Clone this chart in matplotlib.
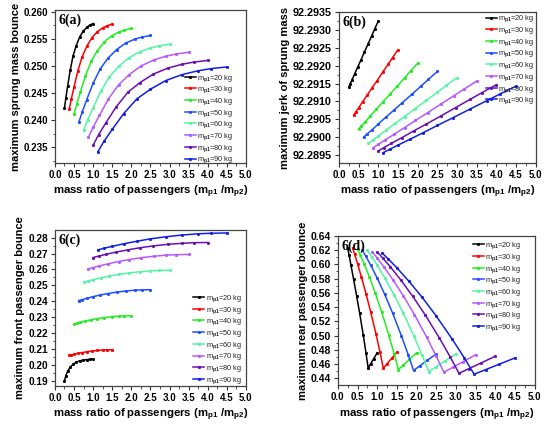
import numpy as np
import matplotlib
matplotlib.use('Agg')
import matplotlib.pyplot as plt
from matplotlib.ticker import MultipleLocator, FormatStrFormatter

plt.rcParams['font.family'] = 'Liberation Sans'
plt.rcParams['mathtext.fontset'] = 'custom'
plt.rcParams['mathtext.rm'] = 'Liberation Sans:bold'
plt.rcParams['mathtext.it'] = 'Liberation Sans:bold'
plt.rcParams['mathtext.bf'] = 'Liberation Sans:bold'

# ── Data ─────────────────────────────
m_p1 = [20, 30, 40, 50, 60, 70, 80, 90]
m_p2 = [80, 70, 60, 50, 42, 36, 31, 27, 24, 22, 20]
m_p2_d = [80, 70, 60, 50, 42, 36, 31, 28, 26, 24, 22, 20]

sprung_bounce = [
    [0.2422, 0.2441, 0.2463, 0.2492, 0.2519, 0.2537, 0.2553, 0.2564, 0.2571, 0.2575, 0.2578],
    [0.2420, 0.2439, 0.2461, 0.2491, 0.2517, 0.2536, 0.2552, 0.2563, 0.2570, 0.2574, 0.2577],
    [0.2411, 0.2430, 0.2452, 0.2482, 0.2509, 0.2528, 0.2544, 0.2555, 0.2562, 0.2566, 0.2569],
    [0.2396, 0.2415, 0.2438, 0.2468, 0.2495, 0.2514, 0.2530, 0.2542, 0.2549, 0.2553, 0.2556],
    [0.2382, 0.2401, 0.2423, 0.2453, 0.2480, 0.2499, 0.2515, 0.2526, 0.2533, 0.2537, 0.2540],
    [0.2368, 0.2387, 0.2409, 0.2439, 0.2465, 0.2484, 0.2500, 0.2511, 0.2518, 0.2522, 0.2525],
    [0.2354, 0.2373, 0.2395, 0.2424, 0.2451, 0.2469, 0.2485, 0.2496, 0.2503, 0.2507, 0.2510],
    [0.2342, 0.2361, 0.2383, 0.2412, 0.2439, 0.2457, 0.2473, 0.2484, 0.2491, 0.2495, 0.2498],
]

sprung_jerk = [
    [92.29140, 92.29149, 92.29161, 92.29177, 92.29196, 92.29215, 92.29238, 92.29261, 92.29284, 92.29303, 92.29325],
    [92.29062, 92.29071, 92.29082, 92.29099, 92.29117, 92.29137, 92.29158, 92.29182, 92.29204, 92.29223, 92.29245],
    [92.29023, 92.29032, 92.29043, 92.29060, 92.29079, 92.29098, 92.29120, 92.29143, 92.29166, 92.29185, 92.29207],
    [92.29000, 92.29009, 92.29020, 92.29037, 92.29056, 92.29075, 92.29097, 92.29120, 92.29143, 92.29162, 92.29184],
    [92.28983, 92.28992, 92.29003, 92.29020, 92.29039, 92.29058, 92.29080, 92.29103, 92.29126, 92.29145, 92.29167],
    [92.28971, 92.28980, 92.28992, 92.29008, 92.29027, 92.29047, 92.29069, 92.29093, 92.29116, 92.29135, 92.29157],
    [92.28962, 92.28971, 92.28983, 92.28999, 92.29018, 92.29037, 92.29059, 92.29083, 92.29106, 92.29125, 92.29147],
    [92.28957, 92.28966, 92.28978, 92.28994, 92.29013, 92.29033, 92.29055, 92.29079, 92.29102, 92.29121, 92.29143],
]

front_bounce = [
    [0.1903, 0.1935, 0.1962, 0.1988, 0.2006, 0.2019, 0.2027, 0.2032, 0.2035, 0.2037, 0.2038],
    [0.2061, 0.2064, 0.2069, 0.2074, 0.2079, 0.2084, 0.2089, 0.2093, 0.2095, 0.2096, 0.2097],
    [0.2258, 0.2263, 0.2269, 0.2277, 0.2285, 0.2292, 0.2298, 0.2304, 0.2307, 0.2309, 0.2310],
    [0.2405, 0.2411, 0.2419, 0.2430, 0.2440, 0.2449, 0.2458, 0.2465, 0.2470, 0.2472, 0.2473],
    [0.2520, 0.2527, 0.2536, 0.2547, 0.2558, 0.2569, 0.2578, 0.2586, 0.2591, 0.2594, 0.2595],
    [0.2604, 0.2612, 0.2623, 0.2636, 0.2650, 0.2662, 0.2674, 0.2683, 0.2690, 0.2693, 0.2694],
    [0.2675, 0.2684, 0.2695, 0.2709, 0.2723, 0.2736, 0.2748, 0.2758, 0.2764, 0.2768, 0.2769],
    [0.2723, 0.2733, 0.2745, 0.2761, 0.2777, 0.2792, 0.2805, 0.2816, 0.2824, 0.2827, 0.2829],
]

rear_bounce = [
    [0.6231, 0.6130, 0.5990, 0.5790, 0.5560, 0.5310, 0.5010, 0.4760, 0.4545, 0.4604, 0.4674, 0.4758],
    [0.6231, 0.6140, 0.6010, 0.5820, 0.5590, 0.5335, 0.5025, 0.4765, 0.4541, 0.4604, 0.4678, 0.4767],
    [0.6217, 0.6131, 0.6009, 0.5825, 0.5595, 0.5334, 0.5013, 0.4747, 0.4522, 0.4588, 0.4665, 0.4758],
    [0.6197, 0.6111, 0.5990, 0.5807, 0.5578, 0.5319, 0.4999, 0.4733, 0.4510, 0.4575, 0.4652, 0.4744],
    [0.6197, 0.6110, 0.5988, 0.5803, 0.5572, 0.5310, 0.4988, 0.4720, 0.4494, 0.4563, 0.4646, 0.4744],
    [0.6174, 0.6088, 0.5967, 0.5783, 0.5555, 0.5295, 0.4975, 0.4709, 0.4485, 0.4553, 0.4633, 0.4730],
    [0.6174, 0.6087, 0.5965, 0.5780, 0.5549, 0.5287, 0.4964, 0.4696, 0.4470, 0.4537, 0.4615, 0.4710],
    [0.6160, 0.6073, 0.5951, 0.5766, 0.5536, 0.5273, 0.4951, 0.4683, 0.4457, 0.4521, 0.4596, 0.4687],
]

colors = ['#000000', '#FF0000', '#22EE22', '#1F4FFF',
          '#55F5A5', '#B45AFF', '#6A0FB0', '#1020E0']

panels = [
    # (rect, data, m2, ylabel, tag, ylim, ymajor, yminor, yfmt, legend anchor, tick size)
    ([0.101, 0.6165, 0.351, 0.360], sprung_bounce, m_p2,
     'maximum sprung mass bounce', '6(a)', (0.2321, 0.2603),
     0.005, 0.0025, '%.3f', (0.68, 0.59), 7.0),
    ([0.623, 0.6165, 0.362, 0.355], sprung_jerk, m_p2,
     'maximum jerk of sprung mass', '6(b)', (92.28928, 92.2935),
     0.0005, 0.00025, '%.4f', (0.745, 0.99), 7.8),
    ([0.101, 0.092, 0.351, 0.367], front_bounce, m_p2,
     'maximum front passenger bounce', '6(c)', (0.187, 0.2848),
     0.01, 0.005, '%.2f', (0.723, 0.595), 7.3),
    ([0.621, 0.094, 0.362, 0.351], rear_bounce, m_p2_d,
     'maximum rear passenger bounce', '6(d)', (0.4305, 0.64),
     0.02, 0.01, '%.2f', (0.685, 0.97), 7.5),
]

fig = plt.figure(figsize=(5.44, 4.25), dpi=100)
fig.patch.set_facecolor('white')

for rect, data, m2, ylab, tag, ylim, ymaj, ymin, yfmt, anchor, tsize in panels:
    ax = fig.add_axes(rect)
    for m1, ys, c in zip(m_p1, data, colors):
        xs = [m1 / v for v in m2]
        ax.plot(xs, ys, color=c, lw=1.1, marker='s', markersize=1.1,
                label=f'm$_{{p1}}$={m1} kg')
    ax.set_xlim(0, 5.0)
    ax.set_ylim(*ylim)
    ax.xaxis.set_major_locator(MultipleLocator(0.5))
    ax.xaxis.set_minor_locator(MultipleLocator(0.25))
    ax.yaxis.set_major_locator(MultipleLocator(ymaj))
    ax.yaxis.set_minor_locator(MultipleLocator(ymin))
    ax.yaxis.set_major_formatter(FormatStrFormatter(yfmt))
    ax.xaxis.set_major_formatter(FormatStrFormatter('%.1f'))
    ax.tick_params(axis='both', which='major', labelsize=7, length=3,
                   width=0.8, pad=2, colors='#333333', labelcolor='black')
    ax.tick_params(axis='y', which='major', labelsize=tsize)
    ax.tick_params(axis='both', which='minor', length=1.8, width=0.6,
                   colors='#333333')
    for lbl in ax.get_xticklabels() + ax.get_yticklabels():
        lbl.set_fontweight('bold')
    for sp in ax.spines.values():
        sp.set_color('#444444')
        sp.set_linewidth(0.9)
    ax.set_xlabel('mass ratio of passengers (m$_{p1}$ /m$_{p2}$)',
                  fontsize=8.2, fontweight='bold', labelpad=3)
    ax.set_ylabel(ylab, fontsize=8.0, fontweight='bold', labelpad=2)
    ax.text(0.02, 0.975, tag, transform=ax.transAxes, ha='left', va='top',
            fontsize=10, fontweight='bold', family='Liberation Serif')
    leg = ax.legend(loc='upper left', bbox_to_anchor=anchor, frameon=False,
                    fontsize=5.3, handlelength=1.5, handletextpad=0.2,
                    labelspacing=0.12, borderpad=0, borderaxespad=0)
    for t in leg.get_texts():
        t.set_color('#222222')

plt.savefig('out.png', dpi=100, facecolor='white')
plt.close()
print("Saved!")
